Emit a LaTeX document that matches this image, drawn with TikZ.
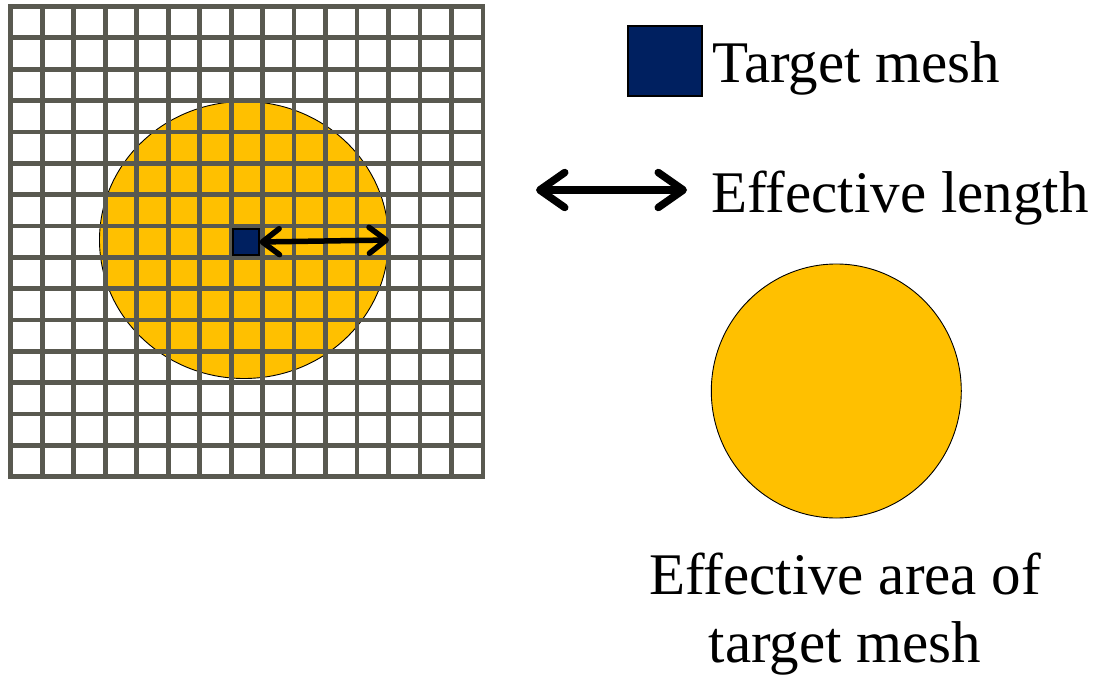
\documentclass[tikz,border=0pt]{standalone}
\usepackage{fontspec}
\setmainfont{Liberation Serif}
\usetikzlibrary{shapes.geometric,arrows.meta}
\definecolor{meshgold}{RGB}{255,192,0}
\definecolor{meshnavy}{RGB}{0,32,96}
\definecolor{gridgray}{RGB}{89,89,80}
\tikzset{
  gridline/.style={draw=gridgray, line width=4.7bp},
  goldarea/.style={ellipse, fill=meshgold, draw=black, line width=0.9bp, inner sep=0pt},
  navybox/.style={rectangle, fill=meshnavy, draw=black, line width=1.2bp, inner sep=0pt},
  lbl/.style={font=\fontsize{59bp}{70bp}\selectfont, inner sep=0pt},
  smallarrow/.style={line width=5.5bp, line cap=round,
    {Straight Barb[length=17bp,width=26bp,line cap=round,line join=round]}-{Straight Barb[length=17bp,width=26bp,line cap=round,line join=round]}},
  bigarrow/.style={line width=7.5bp, line cap=round,
    {Straight Barb[length=25bp,width=35bp,line cap=round,line join=round]}-{Straight Barb[length=25bp,width=35bp,line cap=round,line join=round]}}
}
\begin{document}
\begin{tikzpicture}[x=1bp,y=-1bp]
\useasboundingbox (0,0) rectangle (1097,675);
% effective area on the grid
\node[goldarea, minimum width=289bp, minimum height=277bp] (lc) at (244,240) {};
% grid 15 x 15
\foreach \k in {1,...,14}{
  \draw[gridline] ({10.8+31.48*\k},6.5) -- ({10.8+31.48*\k},476.7);
  \draw[gridline] (10.8,{6.5+31.35*\k}) -- (483,{6.5+31.35*\k});
}
\draw[gridline] (10.8,6.5) rectangle (483,476.7);
% target mesh
\node[navybox, minimum width=26bp, minimum height=26bp] (tm) at (246,242) {};
\draw[smallarrow] (tm.east) -- (lc.east);
% legend
\node[navybox, minimum width=74bp, minimum height=70bp] (legsq) at (665,61) {};
\node[lbl, anchor=base west] (legtm) at (712,83) {Target mesh};
\coordinate (la1) at (536,190);
\coordinate (la2) at (687,190);
\draw[bigarrow] (la1) -- (la2);
\node[lbl, anchor=base west] (legel) at (711,213) {Effective length};
\node[goldarea, minimum width=250bp, minimum height=254bp] (rc) at (836.3,391) {};
\node[lbl, anchor=base] (ea1) at (845,594) {Effective area of};
\node[lbl, anchor=base] (ea2) at (845,662) {target mesh};
\end{tikzpicture}
\end{document}
